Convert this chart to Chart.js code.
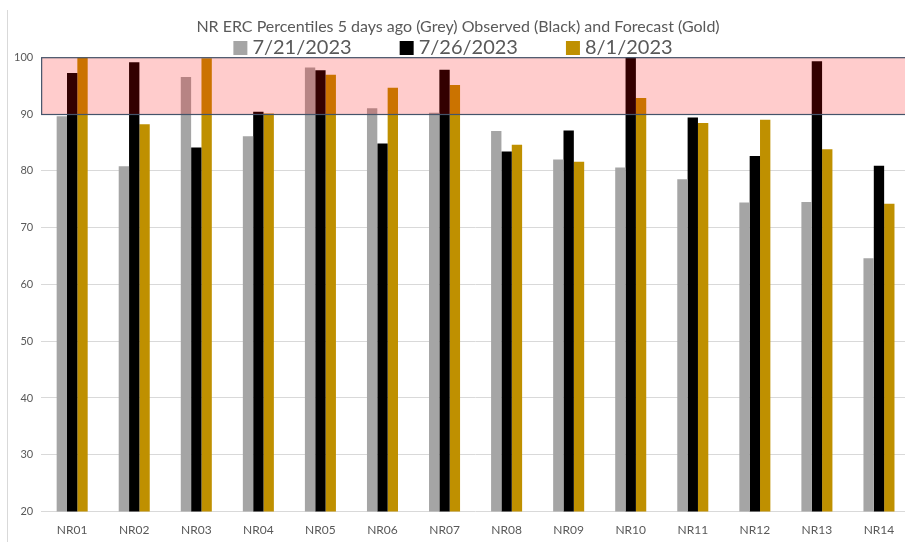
<!DOCTYPE html>
<html>
<head>
<meta charset="utf-8">
<script src="https://cdn.jsdelivr.net/npm/chart.js@4.4.0/dist/chart.umd.min.js"></script>
<style>
  html, body { margin: 0; padding: 0; background: #fff; overflow: hidden; }
  #wrap { position: relative; width: 905px; height: 542px; overflow: hidden; }
  #edge { position: absolute; left: 7px; top: 10px; bottom: 0; width: 1px; background: #d9d9d9; }
  canvas { position: absolute; left: 0; top: 0; }
</style>
</head>
<body>
<div id="wrap">
  <canvas id="ercChart" width="912" height="553"></canvas>
  <div id="edge"></div>
</div>
<script>
// stations
const stations = ['NR01', 'NR02', 'NR03', 'NR04', 'NR05', 'NR06', 'NR07',
                  'NR08', 'NR09', 'NR10', 'NR11', 'NR12', 'NR13', 'NR14'];

// ERC percentiles
const grey5DaysAgo = [89.6, 80.8, 96.5, 86.1, 98.2, 91.0, 90.2, 87.0, 82.0, 80.6, 78.5, 74.4, 74.5, 64.6];
const blackObserved = [97.2, 99.1, 84.1, 90.4, 97.7, 84.8, 97.8, 83.4, 87.1, 100, 89.4, 82.6, 99.3, 80.9];
const goldForecast = [100, 88.2, 99.8, 90.1, 96.9, 94.6, 95.1, 84.6, 81.6, 92.8, 88.4, 89.0, 83.8, 74.2];

const seriesLabels = ['7/21/2023', '7/26/2023', '8/1/2023'];

// y axis ticks and the critical band
const yMin = 20, yMax = 100, yStep = 10;
const bandLow = 90, bandHigh = 100;

const textGrey = '#595959';
const fontName = 'Lato, "Liberation Sans", sans-serif';

// pink band over the bars, 90th to 100th percentile
const bandPlugin = {
  id: 'band',
  afterDatasetsDraw(chart) {
    const ctx = chart.ctx, area = chart.chartArea, y = chart.scales.y;
    const top = y.getPixelForValue(bandHigh), bot = y.getPixelForValue(bandLow);
    ctx.save();
    ctx.fillStyle = 'rgba(255, 0, 0, 0.2)';
    ctx.fillRect(area.left, top, area.right - area.left, bot - top);
    ctx.strokeStyle = '#44546a';
    ctx.lineWidth = 1.2;
    ctx.strokeRect(area.left + 0.5, top + 0.5, area.right - area.left, bot - top);
    ctx.restore();
  }
};

// big legend squeezed between title and plot
const legendPlugin = {
  id: 'bigLegend',
  afterDraw(chart) {
    const ctx = chart.ctx;
    const box = 14, gap = 5, spacing = 48;
    ctx.save();
    ctx.font = '20px ' + fontName;
    ctx.textBaseline = 'middle';
    let widths = chart.data.datasets.map(d => box + gap + ctx.measureText(d.label).width);
    let total = widths.reduce((a, b) => a + b, 0) + spacing * (widths.length - 1);
    let x = 453 - total / 2;
    const cy = 48;
    chart.data.datasets.forEach((d, i) => {
      ctx.fillStyle = d.backgroundColor;
      ctx.fillRect(x, cy - box / 2, box, box);
      ctx.fillStyle = textGrey;
      ctx.fillText(d.label, x + box + gap, cy);
      x += widths[i] + spacing;
    });
    ctx.restore();
  }
};

var ctx = document.getElementById('ercChart');
var ercChart = new Chart(ctx, {
  type: 'bar',
  data: {
    labels: stations,
    datasets: [
      { label: seriesLabels[0], data: grey5DaysAgo, backgroundColor: '#a5a5a5' },
      { label: seriesLabels[1], data: blackObserved, backgroundColor: '#000000' },
      { label: seriesLabels[2], data: goldForecast, backgroundColor: '#bf9000' }
    ]
  },
  options: {
    responsive: false,
    animation: false,
    devicePixelRatio: 1,
    layout: { padding: { left: 6, right: 2, top: 0, bottom: 5 } },
    datasets: { bar: { categoryPercentage: 0.5, barPercentage: 1.0 } },
    plugins: {
      legend: { display: false },
      tooltip: { enabled: false },
      title: {
        display: true,
        text: 'NR ERC Percentiles 5 days ago (Grey) Observed (Black) and Forecast (Gold)',
        color: textGrey,
        font: { family: fontName, size: 16, weight: 'normal' },
        padding: { top: 17, bottom: 21 }
      }
    },
    scales: {
      x: {
        grid: { display: false, drawTicks: false },
        border: { display: false },
        ticks: { color: textGrey, font: { family: fontName, size: 12 }, padding: 11, maxRotation: 0 }
      },
      y: {
        min: yMin,
        max: yMax,
        grid: { color: '#d9d9d9', drawTicks: false },
        border: { display: false },
        ticks: { stepSize: yStep, color: textGrey, font: { family: fontName, size: 11 }, padding: 8 }
      }
    }
  },
  plugins: [bandPlugin, legendPlugin]
});
</script>
</body>
</html>
